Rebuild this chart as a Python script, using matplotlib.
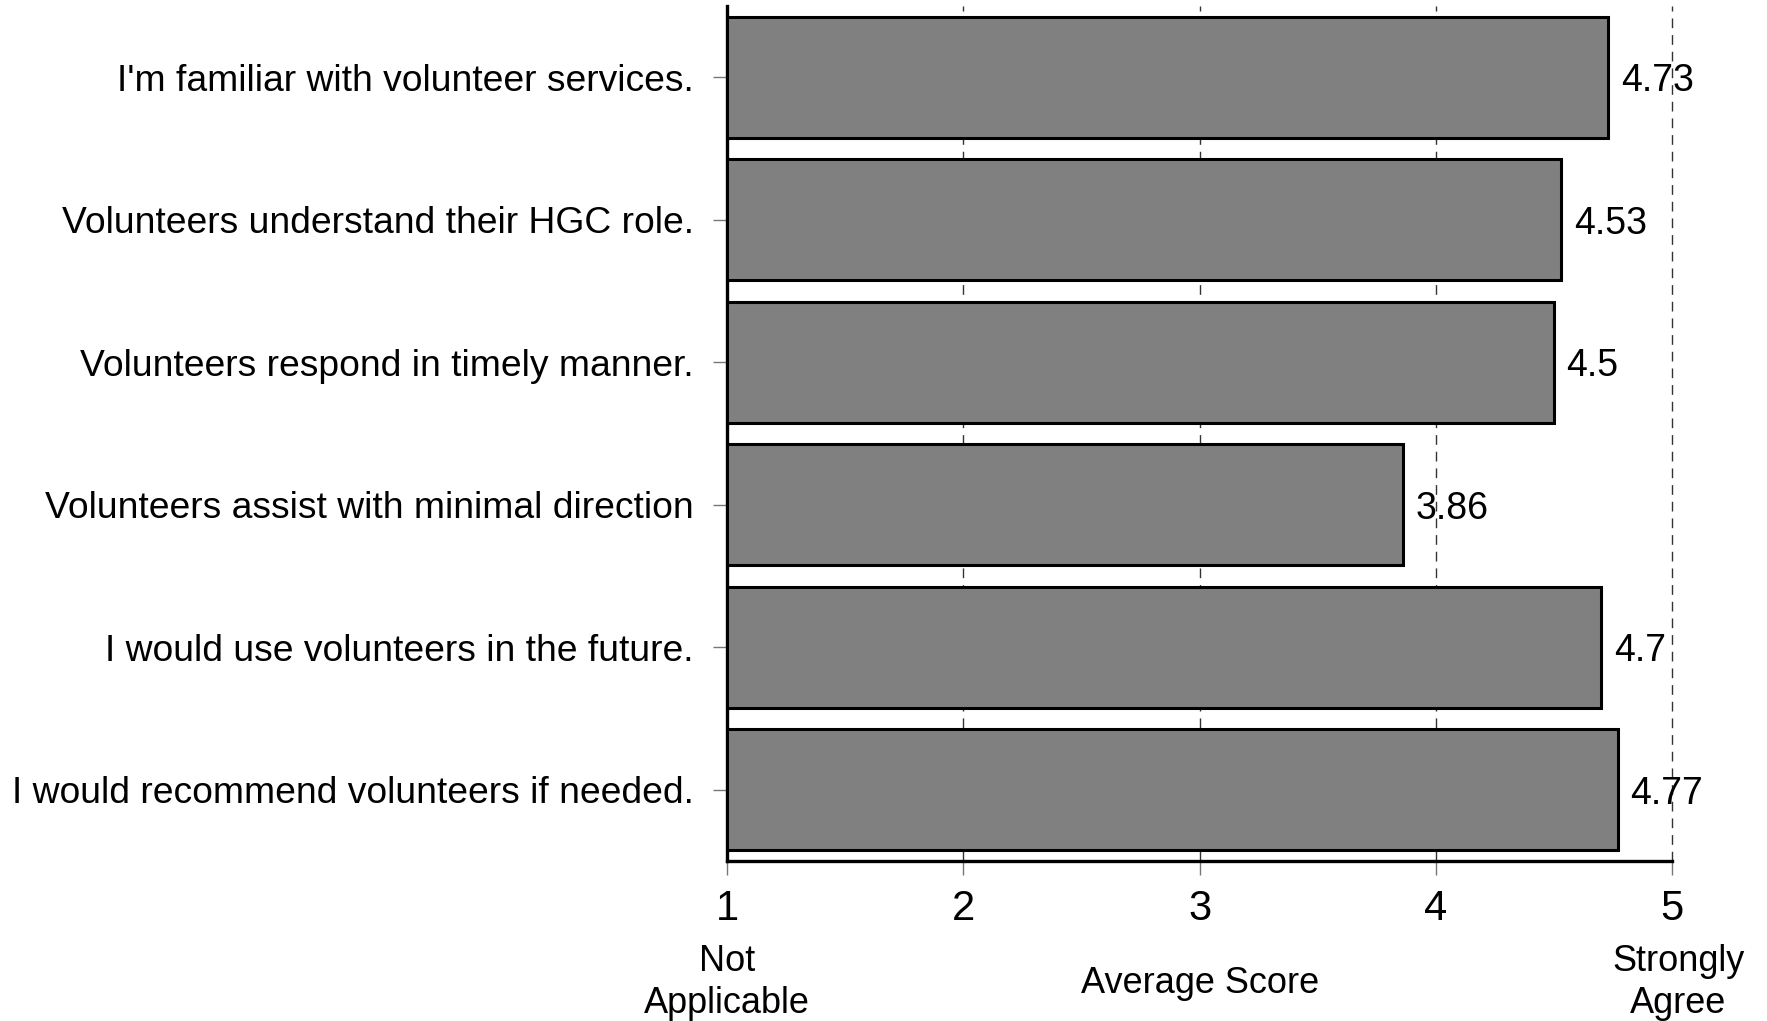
import matplotlib.pyplot as plt
from matplotlib.transforms import blended_transform_factory

plt.rcParams['font.family'] = ['Liberation Sans', 'DejaVu Sans']

questions = [
    "I'm familiar with volunteer services.",
    "Volunteers understand their HGC role.",
    "Volunteers respond in timely manner.",
    "Volunteers assist with minimal direction",
    "I would use volunteers in the future.",
    "I would recommend volunteers if needed.",
]
scores = [4.73, 4.53, 4.5, 3.86, 4.7, 4.77]
ticks = [1, 2, 3, 4, 5]

fig = plt.figure(figsize=(17.67, 10.21), dpi=100)
ax = fig.add_axes([0.4114, 0.1567, 0.5350, 0.8374])

ypos = list(range(len(questions)))
ax.barh(ypos, [s - 1 for s in scores], left=1, height=0.85,
        color='#808080', edgecolor='black', linewidth=2.2, zorder=3)

for y, s in zip(ypos, scores):
    ax.annotate(f"{s:g}", (s, y), xytext=(9, 0), textcoords='offset points',
                va='center_baseline', ha='left', fontsize=27, zorder=4)

ax.set_xlim(1, 5)
ax.set_ylim(5.5, -0.5)
ax.set_yticks(ypos)
ax.set_yticklabels(questions, fontsize=26.8)
ax.set_xticks(ticks)
ax.set_xticklabels([str(t) for t in ticks], fontsize=30)

ax.grid(axis='x', color='#333333', linestyle=(0, (7, 5)), linewidth=1.0, zorder=1)
ax.set_axisbelow(True)
for gl in ax.get_xgridlines():
    gl.set_clip_on(False)

ax.tick_params(axis='y', length=10, width=1, color='#777777', pad=14)
ax.tick_params(axis='x', length=10, width=1, color='#777777', pad=10)

for side in ['top', 'right']:
    ax.spines[side].set_visible(False)
for side in ['left', 'bottom']:
    ax.spines[side].set_linewidth(2.4)
    ax.spines[side].set_color('black')

tr = blended_transform_factory(ax.transData, fig.transFigure)
ax.text(1, 0.008, "Not\nApplicable", transform=tr, ha='center', va='baseline',
        fontsize=26, linespacing=1.27)
ax.text(5.025, 0.008, "Strongly\nAgree", transform=tr, ha='center', va='baseline',
        fontsize=26, linespacing=1.27)
ax.text(3, 0.027, "Average Score", transform=tr, ha='center', va='baseline',
        fontsize=26)

fig.savefig('out.png', dpi=100)
